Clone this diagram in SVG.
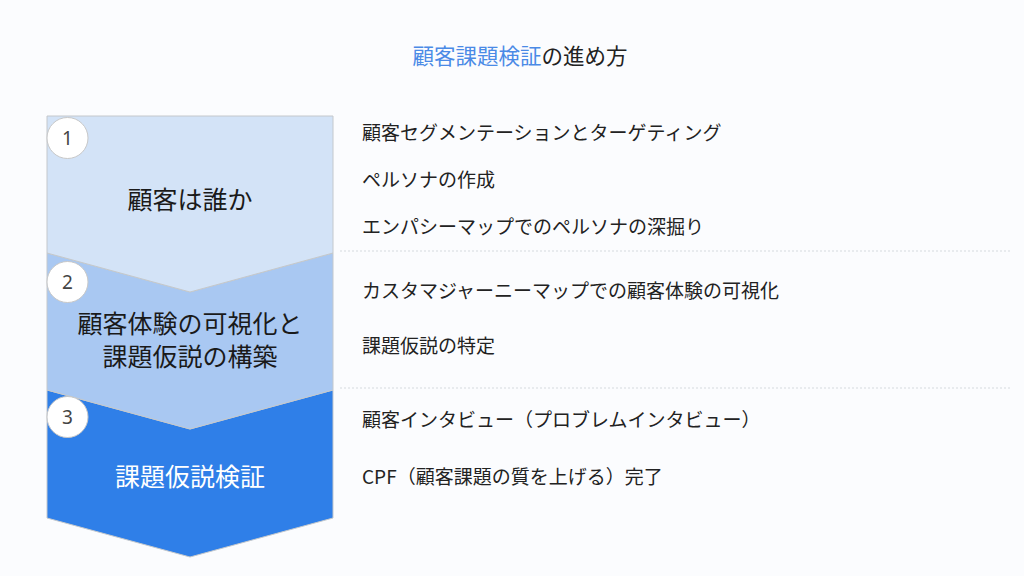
<svg xmlns="http://www.w3.org/2000/svg" width="1024" height="576" viewBox="0 0 1024 576">
<style>
text{font-family:"Noto Sans CJK JP","Noto Sans",sans-serif;}
.step{stroke:#c4c8cc;stroke-width:1;}
.num{fill:#ffffff;stroke:#c8c8c8;stroke-width:1;}
.numt{font-size:19px;fill:#444444;text-anchor:middle;font-family:"Noto Sans",sans-serif;}
.lbl{font-size:25px;text-anchor:middle;fill:#1a1a1a;}
.item{font-size:19px;fill:#222222;}
.sep{stroke:#d6d9de;stroke-width:1.2;stroke-dasharray:2 2;}
</style>
<rect width="1024" height="576" fill="#fbfcfe"/>
<text x="520" y="64" font-size="21.5" text-anchor="middle"><tspan fill="#4a8ae6">顧客課題検証</tspan><tspan fill="#222222">の進め方</tspan></text>
<g id="step3">
<path class="step" d="M47,390 L190,429 L333,390 L333,518 L190,557 L47,518 Z" fill="#2f7fe8"/>
<text class="lbl" x="190" y="486" style="fill:#ffffff">課題仮説検証</text>
</g>
<g id="step2">
<path class="step" d="M47,253 L190,292 L333,253 L333,390 L190,429 L47,390 Z" fill="#a9c8f2"/>
<text class="lbl" x="190" y="333">顧客体験の可視化と</text>
<text class="lbl" x="190" y="366">課題仮説の構築</text>
</g>
<g id="step1">
<path class="step" d="M47,116 L333,116 L333,253 L190,292 L47,253 Z" fill="#d3e3f7"/>
<text class="lbl" x="190" y="209">顧客は誰か</text>
</g>
<g id="n1"><circle class="num" cx="67.5" cy="138" r="20.5"/><text class="numt" x="67.5" y="145">1</text></g>
<g id="n2"><circle class="num" cx="67.5" cy="282" r="20.5"/><text class="numt" x="67.5" y="289">2</text></g>
<g id="n3"><circle class="num" cx="67.5" cy="417" r="20.5"/><text class="numt" x="67.5" y="424">3</text></g>
<g id="separators">
<line class="sep" x1="340" y1="251" x2="1010" y2="251"/>
<line class="sep" x1="340" y1="388" x2="1010" y2="388"/>
</g>
<g id="items">
<text class="item" x="362" y="140">顧客セグメンテーションとターゲティング</text>
<text class="item" x="362" y="187">ペルソナの作成</text>
<text class="item" x="362" y="234">エンパシーマップでのペルソナの深掘り</text>
<text class="item" x="362" y="298">カスタマジャーニーマップでの顧客体験の可視化</text>
<text class="item" x="362" y="353">課題仮説の特定</text>
<text class="item" x="362" y="427">顧客インタビュー（プロブレムインタビュー）</text>
<text class="item" x="362" y="484">CPF（顧客課題の質を上げる）完了</text>
</g>
</svg>
